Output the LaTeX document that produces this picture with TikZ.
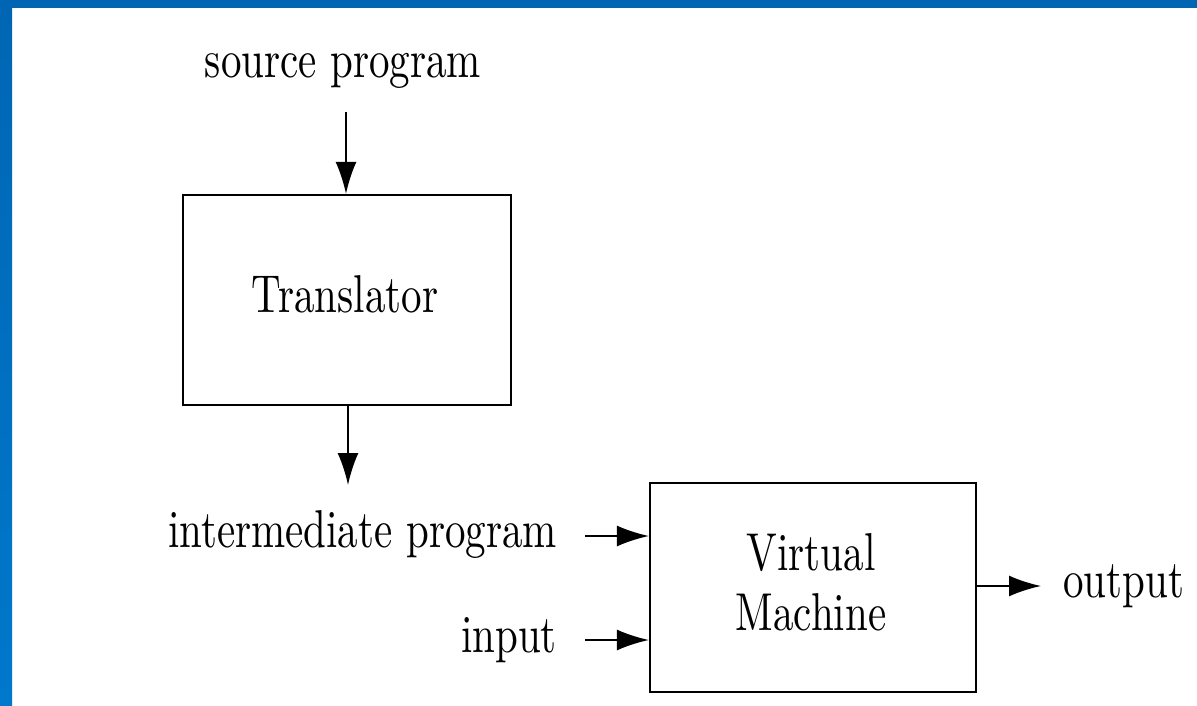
\documentclass[tikz,border=0pt]{standalone}
\usepackage{fontspec}
\usepackage{graphicx}
\setmainfont{lmroman10-regular.otf}
\usetikzlibrary{arrows.meta}
\definecolor{framebluetop}{HTML}{0066B3}
\definecolor{framebluebot}{HTML}{0078CC}
% tall lettering
\newcommand{\tallword}[1]{\scalebox{1}[1.3]{#1}}
\begin{document}
\begin{tikzpicture}[x=1pt,y=-1pt,
  every node/.style={font=\fontsize{41}{50}\selectfont, inner sep=0pt},
  word/.style={anchor=base},
  procbox/.style={draw=black, line width=2.2pt, minimum width=328pt, minimum height=210pt},
  flow/.style={line width=2pt, -{Latex[length=32pt,width=21pt]}}]
  % canvas and blue frame
  \useasboundingbox (0,0) rectangle (1197,706);
  \fill[white] (0,0) rectangle (1197,706);
  \shade[top color=framebluetop, bottom color=framebluebot] (0,0) rectangle (12,706);
  \fill[framebluetop] (0,0) rectangle (1197,8);

  % boxes
  \node[procbox] (tr) at (347,300) {};
  \node[procbox, minimum width=326pt, minimum height=209pt] (vm) at (813,587.5) {};

  % box captions
  \node[word] (trtxt) at (345,312) {\tallword{Translator}};
  \node[word] (vmtxt1) at (811,570) {\tallword{Virtual}};
  \node[word] (vmtxt2) at (811,630) {\tallword{Machine}};

  % labels
  \node[word] (src) at (343,78) {\tallword{source program}};
  \node[word, anchor=base east] (ip) at (557,547) {\tallword{intermediate program}};
  \node[word, anchor=base east] (in) at (557,652) {\tallword{input}};
  \node[word, anchor=base west] (out) at (1063,597) {\tallword{output}};

  % free ends of the connectors
  \coordinate (srcEnd) at (346,112);
  \coordinate (trOut) at (348,485);
  \coordinate (ipStart) at (585,536);
  \coordinate (inStart) at (585,640);
  \coordinate (outEnd) at (1041,586);

  % connectors
  \draw[flow] (srcEnd) -- (srcEnd |- tr.north);
  \draw[flow] (trOut |- tr.south) -- (trOut);
  \draw[flow] (ipStart) -- (ipStart -| vm.west);
  \draw[flow] (inStart) -- (inStart -| vm.west);
  \draw[flow] (outEnd -| vm.east) -- (outEnd);
\end{tikzpicture}
\end{document}
